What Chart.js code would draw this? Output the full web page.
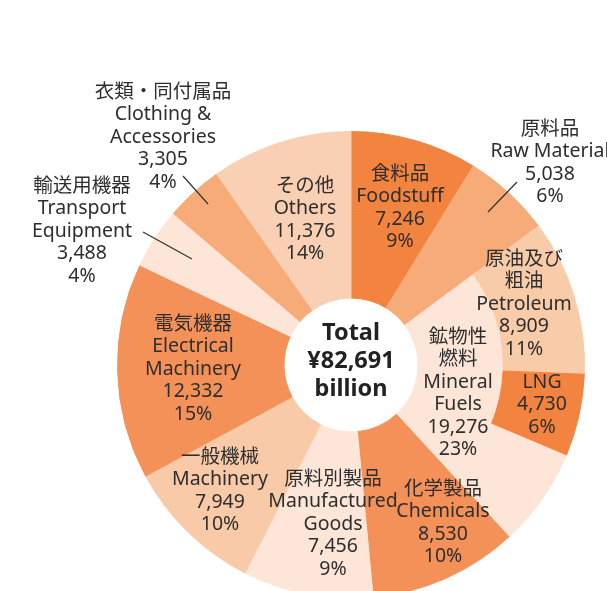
<!DOCTYPE html>
<html>
<head>
<meta charset="utf-8">
<script src="https://cdn.jsdelivr.net/npm/chart.js@4.4.1/dist/chart.umd.min.js"></script>
<style>
  html, body { margin: 0; padding: 0; background: #fff; overflow: hidden; }
  #wrap { position: absolute; left: 0; top: 0; width: 607px; height: 640px; }
</style>
</head>
<body>
<div id="wrap"><canvas id="chartImport"></canvas></div>
<script>
// categories, clockwise from 12 o'clock
const categoriesJa = ['食料品', '原料品', '鉱物性\n燃料', '化学製品', '原料別製品', '一般機械', '電気機器', '輸送用機器', '衣類・同付属品', 'その他'];
const categoriesEn = ['Foodstuff', 'Raw Material', 'Mineral\nFuels', 'Chemicals', 'Manufactured\nGoods', 'Machinery', 'Electrical\nMachinery', 'Transport\nEquipment', 'Clothing &\nAccessories', 'Others'];
const values = [7246, 5038, 19276, 8530, 7456, 7949, 12332, 3488, 3305, 11376];
const shares = [9, 6, 23, 10, 9, 10, 15, 4, 4, 14];
const colors = ['#F3843F', '#F6AB79', '#FDE6D8', '#F39158', '#FDE6D8', '#F9CAA8', '#F39158', '#FDE6D8', '#F6AB79', '#F9D0B3'];

// breakdown of mineral fuels (outer ring)
const fuelJa = ['原油及び\n粗油', ''];
const fuelEn = ['Petroleum', 'LNG'];
const fuelValues = [8909, 4730];
const fuelShares = [11, 6];
const fuelColors = ['#F9CCA9', '#F3843F'];

const totalValue = 82691;

(function() {
    const FONT = '"Noto Sans", "Noto Sans CJK JP", sans-serif';
    const fmt = n => n.toLocaleString('en-US');

    // the reference draws slices against the printed total, so "Others" only gets what is left
    const resto = totalValue - values.slice(0, -1).reduce((a, b) => a + b, 0);
    const innerData = values.map((v, i) => i === values.length - 1 ? resto : v);

    const fuelRest = values[2] - fuelValues.reduce((a, b) => a + b, 0);
    const outerData = [], outerColors = [];
    innerData.forEach((v, i) => {
        if (i === 2) {
            outerData.push(...fuelValues, fuelRest);
            outerColors.push(...fuelColors, colors[2]);
        } else {
            outerData.push(v);
            outerColors.push(colors[i]);
        }
    });

    // text blocks: offsets from the pie centre (x = centre of lines, y = first line)
    const blocos = [
        { i: 0, dx: 49, dy: -191 },
        { i: 1, dx: 199, dy: -236 },
        { i: 2, dx: 107, dy: -28 },
        { i: 3, dx: 92, dy: 124 },
        { i: 4, dx: -18, dy: 114 },
        { i: 5, dx: -131, dy: 92 },
        { i: 6, dx: -158, dy: -41 },
        { i: 7, dx: -269, dy: -179 },
        { i: 8, dx: -188, dy: -273 },
        { i: 9, dx: -46, dy: -179 },
        { f: 0, dx: 173, dy: -106 },
        { f: 1, dx: 191, dy: 17 }
    ];
    const linhasGuia = [
        [166, -183, 137, -153],
        [-168, -189, -143, -161],
        [-208, -133, -159, -106]
    ];

    function linhasDoBloco(b) {
        let ja, en, v, p;
        if (b.f !== undefined) {
            ja = fuelJa[b.f]; en = fuelEn[b.f]; v = fuelValues[b.f]; p = fuelShares[b.f];
        } else {
            ja = categoriesJa[b.i]; en = categoriesEn[b.i]; v = values[b.i]; p = shares[b.i];
        }
        const out = [];
        if (ja) out.push(...ja.split('\n'));
        out.push(...en.split('\n'), fmt(v), p + '%');
        return out;
    }

    const rotulos = {
        id: 'rotulos',
        afterDatasetsDraw(chart) {
            const arc = chart.getDatasetMeta(0).data[0];
            const cx = arc.x, cy = arc.y;
            const ctx = chart.ctx;
            ctx.save();
            ctx.textAlign = 'center';
            ctx.textBaseline = 'middle';
            ctx.fillStyle = '#2e2e2e';
            ctx.font = '19.5px ' + FONT;
            blocos.forEach(b => {
                linhasDoBloco(b).forEach((t, k) => {
                    ctx.fillText(t, cx + b.dx, cy + b.dy + k * 22.5);
                });
            });

            ctx.strokeStyle = '#333';
            ctx.lineWidth = 1.2;
            linhasGuia.forEach(l => {
                ctx.beginPath();
                ctx.moveTo(cx + l[0], cy + l[1]);
                ctx.lineTo(cx + l[2], cy + l[3]);
                ctx.stroke();
            });

            ctx.fillStyle = '#222';
            ctx.font = 'bold 23.5px ' + FONT;
            ['Total', '¥' + fmt(totalValue), 'billion'].forEach((t, k) => {
                ctx.fillText(t, cx, cy - 32 + k * 28);
            });
            ctx.restore();
        }
    };

    new Chart(document.getElementById('chartImport'), {
        type: 'doughnut',
        data: {
            labels: outerData.map((_, i) => i),
            datasets: [
                { data: outerData, backgroundColor: outerColors, borderColor: outerColors, borderWidth: 1, weight: 82 },
                { data: innerData, backgroundColor: colors, borderColor: colors, borderWidth: 1, weight: 86 }
            ]
        },
        options: {
            responsive: true,
            maintainAspectRatio: false,
            animation: false,
            cutout: 67,
            layout: { padding: { left: 117, right: 22, top: 131, bottom: 41 } },
            plugins: { legend: { display: false }, tooltip: { enabled: false } }
        },
        plugins: [rotulos]
    });
})();
</script>
</body>
</html>
